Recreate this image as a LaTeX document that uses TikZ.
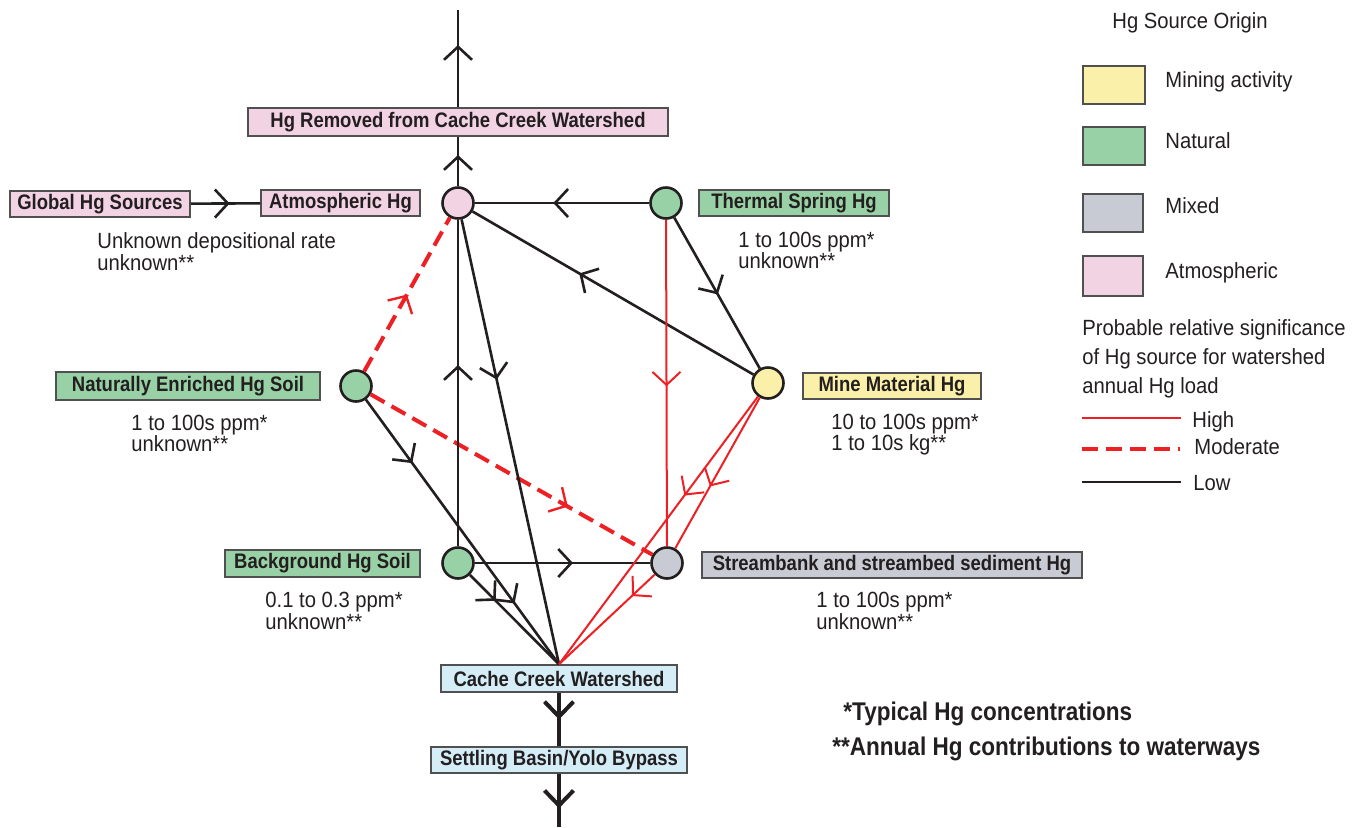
\documentclass[tikz,border=0pt]{standalone}
\usepackage{fontspec}
\setmainfont{Liberation Sans}
\newfontfamily\condfont{Liberation Sans}[FakeStretch=0.88]
\newfontfamily\regfont{Liberation Sans}[FakeStretch=0.92]
\usetikzlibrary{arrows.meta,decorations.markings}
\definecolor{ink}{HTML}{231F20}
\definecolor{boxborder}{HTML}{505050}
\definecolor{pinkc}{HTML}{F2D3E4}
\definecolor{greenc}{HTML}{98D1A5}
\definecolor{grayc}{HTML}{C8CBD3}
\definecolor{yellowc}{HTML}{FAF0A9}
\definecolor{bluec}{HTML}{D4EDF7}
\definecolor{hgred}{HTML}{ED2024}
\newcommand{\lblf}{\condfont\bfseries\fontsize{10.5}{12}\selectfont}
\newcommand{\txtf}{\regfont\fontsize{11}{12}\selectfont}
\newcommand{\notef}{\condfont\bfseries\fontsize{12.8}{14}\selectfont}
\begin{document}
\begin{tikzpicture}[x=0.5pt,y=-0.5pt,
  lbl/.style={draw=boxborder, line width=0.75pt, inner sep=0pt, minimum height=13pt, font=\lblf, text=ink},
  src/.style={circle, draw=ink, line width=1.3pt, minimum size=15.5pt, inner sep=0pt},
  txt/.style={anchor=base west, inner sep=0pt, font=\txtf, text=ink},
  note/.style={anchor=base west, inner sep=0pt, font=\notef, text=ink},
  swatch/.style={draw=boxborder, line width=0.8pt, anchor=north west, minimum width=31pt, minimum height=19pt, inner sep=0pt},
  low/.style={draw=ink, line width=1.3pt},
  high/.style={draw=hgred, line width=1pt},
  moderate/.style={draw=hgred, line width=2pt, dash pattern=on 8pt off 4pt},
  flow/.style={draw=ink, line width=2pt},
  chev/.style={postaction={decorate, decoration={markings, mark=at position #1 with {\arrow{Straight Barb[length=6.5pt,width=14pt]}}}}},
  chevm/.style={postaction={decorate, decoration={markings, mark=at position #1 with {\arrow{Straight Barb[length=6.5pt,width=14pt,line width=1.2pt]}}}}},
  chevb/.style={postaction={decorate, decoration={markings, mark=at position #1 with {\arrow{Straight Barb[length=7.5pt,width=14.5pt]}}}}},
]
\useasboundingbox (0,0) rectangle (1360,827);

% boxes and source circles
\node[lbl, fill=pinkc, minimum width=210pt, minimum height=14pt] (HR) at (458,122) {Hg Removed from Cache Creek Watershed};
\coordinate (top) at (458,10);
\node[lbl, fill=pinkc, minimum width=90pt] (GL) at (100,204) {Global Hg Sources};
\node[lbl, fill=pinkc, minimum width=79.5pt] (AL) at (340.5,203) {Atmospheric Hg};
\node[src, fill=pinkc] (A) at (458,203) {};
\node[src, fill=greenc] (T) at (666,203) {};
\node[lbl, fill=greenc, minimum width=95pt] (TL) at (794,203) {Thermal Spring Hg};
\node[src, fill=greenc] (N) at (356,386) {};
\node[lbl, fill=greenc, minimum width=132pt, minimum height=14pt] (NL) at (188,386) {Naturally Enriched Hg Soil};
\node[src, fill=yellowc] (M) at (768,383) {};
\node[lbl, fill=yellowc, minimum width=89pt] (ML) at (892,386) {Mine Material Hg};
\node[src, fill=greenc] (B) at (458,563) {};
\node[lbl, fill=greenc, minimum width=97.5pt, minimum height=13.5pt] (BL) at (322.5,563.5) {Background Hg Soil};
\node[src, fill=grayc] (S) at (667,563) {};
\node[lbl, fill=grayc, minimum width=190pt] (SL) at (892,565) {Streambank and streambed sediment Hg};
\node[lbl, fill=bluec, minimum width=118pt, minimum height=13.5pt] (CC) at (559,678.5) {Cache Creek Watershed};
\coordinate (W) at (CC.north);
\node[lbl, fill=bluec, minimum width=128pt] (SB) at (559,760) {Settling Basin/Yolo Bypass};
\coordinate (bottom) at (559,827);

% annotation texts
\node[txt] (t1a) at (97,248) {Unknown depositional rate};
\node[txt] (t1b) at (97,270) {unknown**};
\node[txt] (t2a) at (738,247) {1 to 100s ppm*};
\node[txt] (t2b) at (738,268) {unknown**};
\node[txt] (t3a) at (131,430) {1 to 100s ppm*};
\node[txt] (t3b) at (131,451) {unknown**};
\node[txt] (t4a) at (831,429) {10 to 100s ppm*};
\node[txt] (t4b) at (831,450) {1 to 10s kg**};
\node[txt] (t5a) at (265,607) {0.1 to 0.3 ppm*};
\node[txt] (t5b) at (265,629) {unknown**};
\node[txt] (t6a) at (816,607) {1 to 100s ppm*};
\node[txt] (t6b) at (816,629) {unknown**};

% connectors
\draw[low, chev=0.64] (HR.north) -- (top);
\draw[low, chev=0.63] (A) -- (HR.south);
\draw[low, chev=0.56] (GL) -- (AL);
\draw[low, chev=0.55] (T) -- (A);
\draw[low, chev=0.62] (M) -- (A);
\draw[low, chev=0.51] (T) -- (M);
\draw[high, chev=0.51] (T) -- (S);
\draw[moderate, chevm=0.5] (N) -- (A);
\draw[moderate, chevm=0.7] (N) -- (S);
\draw[low, chev=0.24, chev=0.77] (N) -- (W);
\draw[low, chev=0.555] (B) -- (A);
\draw[low, chev=0.36] (A) -- (W);
\draw[low, chev=0.56] (B) -- (S);
\draw[low, chev=0.29] (B) -- (W);
\draw[high, chev=0.37] (M) -- (W);
\draw[high, chev=0.59] (M) -- (S);
\draw[high, chev=0.24] (S) -- (W);
\draw[flow, chevb=0.5] (CC) -- (SB);
\draw[flow, chevb=0.65] (SB.south) -- (bottom);

% footnotes
\node[note] (n1) at (843,720) {*Typical Hg concentrations};
\node[note] (n2) at (832,755) {**Annual Hg contributions to waterways};

% legend
\node[txt] (lg) at (1112,28) {Hg Source Origin};
\node[swatch, fill=yellowc] (sw1) at (1082,65) {};
\node[swatch, fill=greenc] (sw2) at (1082,126) {};
\node[swatch, fill=grayc, minimum width=30pt] (sw3) at (1082,193) {};
\node[swatch, fill=pinkc, minimum width=30pt, minimum height=20pt] (sw4) at (1082,255) {};
\node[txt] (lg1) at (1165,87) {Mining activity};
\node[txt] (lg2) at (1165,148) {Natural};
\node[txt] (lg3) at (1165,213) {Mixed};
\node[txt] (lg4) at (1165,278) {Atmospheric};
\node[txt] (lp1) at (1082,335) {Probable relative significance};
\node[txt] (lp2) at (1082,364) {of Hg source for watershed};
\node[txt] (lp3) at (1082,393) {annual Hg load};
\coordinate (h1) at (1082,418);
\coordinate (h2) at (1181,418);
\coordinate (m1) at (1082,449);
\coordinate (m2) at (1180,449);
\coordinate (l1) at (1082,482);
\coordinate (l2) at (1181,482);
\draw[high] (h1) -- (h2);
\draw[moderate] (m1) -- (m2);
\draw[low] (l1) -- (l2);
\node[txt] (lh) at (1192,427) {High};
\node[txt] (lm) at (1194,454) {Moderate};
\node[txt] (ll) at (1193,490) {Low};
\end{tikzpicture}
\end{document}
